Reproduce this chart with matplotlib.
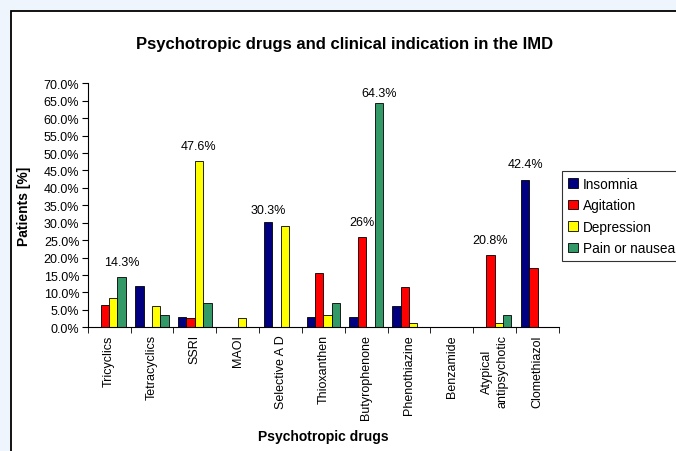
import numpy as np
import matplotlib
matplotlib.use("Agg")
import matplotlib.pyplot as plt
from matplotlib.patches import Rectangle

plt.rcParams["font.family"] = ["Liberation Sans", "DejaVu Sans"]

categories = ["Tricyclics", "Tetracyclics", "SSRI", "MAOI", "Selective A D",
              "Thioxanthen", "Butyrophenone", "Phenothiazine", "Benzamide",
              "Atypical\nantipsychotic", "Clomethiazol"]
insomnia = [0, 11.9, 3.0, 0, 30.3, 3.0, 3.0, 6.2, 0, 0, 42.4]
agitation = [6.4, 0, 2.7, 0, 0, 15.6, 26.0, 11.7, 0, 20.8, 16.9]
depression = [8.4, 6.1, 47.6, 2.6, 29.2, 3.5, 0, 1.3, 0, 1.3, 0]
pain = [14.3, 3.5, 7.1, 0, 0, 7.1, 64.3, 0, 0, 3.6, 0]
series_names = ["Insomnia", "Agitation", "Depression", "Pain or nausea"]
colors = ["#000080", "#FF0000", "#FFFF00", "#339966"]

# (series index, category index, label text, vertical offset in points)
peak_labels = [(3, 0, "14.3%", 11), (2, 2, "47.6%", 11), (0, 4, "30.3%", 8.5),
               (1, 6, "26%", 10.5), (3, 6, "64.3%", 7), (1, 9, "20.8%", 10.5),
               (0, 10, "42.4%", 11)]

W, H = 676, 452
fig = plt.figure(figsize=(W / 100, H / 100), dpi=100)
fig.patch.set_facecolor("#EEF5FC")
fig.patches.append(Rectangle((11 / W, -0.1), 1.2, (H - 12) / H + 0.1,
                             transform=fig.transFigure, facecolor="white",
                             edgecolor="black", linewidth=1.3, zorder=-10))

ax = fig.add_axes([87.7 / W, (H - 328.3) / H, (559 - 87.7) / W, (328.3 - 84.3) / H])
ax.set_facecolor("none")

series = [insomnia, agitation, depression, pain]
x = np.arange(len(categories))
bw = 0.195
for i, (vals, c, name) in enumerate(zip(series, colors, series_names)):
    ax.bar(x + (i - 1.5) * bw, vals, width=bw, color=c, edgecolor="black",
           linewidth=0.6, label=name)

for si, ci, txt, off in peak_labels:
    v = series[si][ci]
    ax.annotate(txt, (ci + (si - 1.5) * bw, v), xytext=(0, off),
                textcoords="offset points", ha="center", va="center",
                fontsize=9, annotation_clip=False)

ax.set_xlim(-0.5, len(categories) - 0.5)
ax.set_ylim(0, 70)
ax.set_yticks(np.arange(0, 71, 5))
ax.set_yticklabels([f"{v:.1f}%" for v in np.arange(0, 71, 5)], fontsize=9)
ax.set_xticks(x)
ax.set_xticklabels(categories, rotation=90, fontsize=9, va="top", linespacing=1.35)
ax.set_xticks(np.arange(-0.5, len(categories)), minor=True)
ax.tick_params(axis="x", which="major", length=0, pad=5)
ax.tick_params(axis="x", which="minor", length=4, direction="out")
ax.tick_params(axis="y", length=4, direction="out", pad=2)
for s in ["top", "right"]:
    ax.spines[s].set_visible(False)
ax.spines["left"].set_linewidth(0.8)
ax.spines["bottom"].set_linewidth(0.8)

ax.set_ylabel("Patients [%]", fontsize=10, fontweight="bold", labelpad=9)
ax.set_xlabel("Psychotropic drugs", fontsize=10, fontweight="bold", labelpad=7)
fig.text(345 / W, 1 - 45 / H, "Psychotropic drugs and clinical indication in the IMD",
         ha="center", va="center", fontsize=12, fontweight="bold")

leg = fig.legend(loc="upper left", bbox_to_anchor=(562 / W, 1 - 171.7 / H),
                 frameon=True, fancybox=False, fontsize=9.8, handlelength=0.7,
                 handleheight=0.7, handletextpad=0.4, labelspacing=0.55,
                 borderpad=0.45, borderaxespad=0)
leg.get_frame().set_edgecolor("black")
leg.get_frame().set_linewidth(0.8)

fig.savefig("out.png", dpi=100, facecolor=fig.get_facecolor())
